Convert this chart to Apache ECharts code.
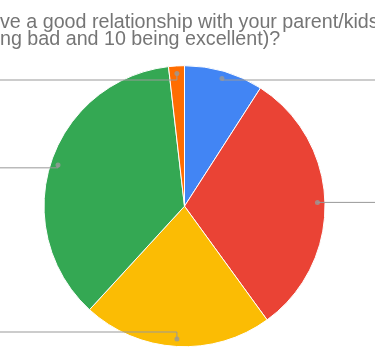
<!DOCTYPE html>
<html>
<head>
<meta charset="utf-8">
<script src="https://cdn.jsdelivr.net/npm/echarts@6/dist/echarts.min.js"></script>
<style>
    html, body { margin: 0; padding: 0; width: 375px; height: 351px; overflow: hidden; background: #fff; }
    /* chart is wider than the window: the outside labels fall off the edges like in the screenshot */
    #chart { position: absolute; left: -200px; top: 0; width: 775px; height: 351px; }
</style>
</head>
<body>
<div id="chart"></div>
<script>
var categories = ['1', '2', '3', '4', '5'];
var responses = [5, 17, 12, 20, 1];
var sliceColors = ['#4285F4', '#EA4335', '#FBBC04', '#34A853', '#FF6D01'];
var titleLines = ['ve a good relationship with your parent/kids', 'ng bad and 10 being excellent)?'];

var CX = 384.5, CY = 206.2, R = 140.5, R_DOT = 133, LABEL_TOP = 61;

var total = 0;
for (var i = 0; i < responses.length; i++) total += responses[i];

var pieData = [];
var anchorData = [];
var dotData = [];
var acc = 0;
for (var i = 0; i < categories.length; i++) {
    pieData.push({ name: categories[i], value: responses[i], itemStyle: { color: sliceColors[i] } });
    anchorData.push({ name: categories[i], value: responses[i] });
    dotData.push([1, acc + responses[i] / 2]);
    acc += responses[i];
}

var option = {
    animation: false,
    backgroundColor: '#fff',
    title: {
        text: titleLines.join('\n'),
        left: 200,
        top: 14,
        padding: 0,
        textStyle: {
            fontFamily: 'Liberation Sans',
            fontSize: 19.7,
            fontWeight: 'normal',
            color: '#757575',
            lineHeight: 17
        }
    },
    polar: { center: [CX, CY], radius: R_DOT },
    angleAxis: { type: 'value', min: 0, max: total, startAngle: 90, clockwise: true, show: false },
    radiusAxis: { type: 'value', min: 0, max: 1, show: false },
    series: [
        {
            type: 'pie',
            z: 1,
            center: [CX, CY],
            radius: R,
            startAngle: 90,
            clockwise: true,
            silent: true,
            data: pieData,
            label: { show: false },
            labelLine: { show: false },
            itemStyle: { borderColor: '#fff', borderWidth: 1 }
        },
        {
            // transparent copy: only carries the leader lines from the dots
            type: 'pie',
            z: 3,
            top: LABEL_TOP,
            bottom: 0,
            left: 0,
            right: 0,
            center: [CX, CY - LABEL_TOP],
            radius: R_DOT,
            startAngle: 90,
            clockwise: true,
            silent: true,
            data: anchorData,
            itemStyle: { color: 'rgba(0,0,0,0)' },
            label: {
                show: true,
                position: 'outside',
                alignTo: 'edge',
                edgeDistance: 10,
                formatter: '{b}\n{d}%',
                fontFamily: 'Liberation Sans',
                fontSize: 12,
                lineHeight: 18,
                color: '#757575'
            },
            labelLine: {
                show: true,
                length: 0,
                length2: 40,
                minTurnAngle: 0,
                maxSurfaceAngle: 180,
                lineStyle: { color: '#999', width: 1 }
            }
        },
        {
            type: 'scatter',
            coordinateSystem: 'polar',
            data: dotData,
            symbolSize: 5,
            silent: true,
            itemStyle: { color: '#999' },
            z: 5
        }
    ]
};

var myChart = echarts.init(document.getElementById('chart'));
myChart.setOption(option);
</script>
</body>
</html>
